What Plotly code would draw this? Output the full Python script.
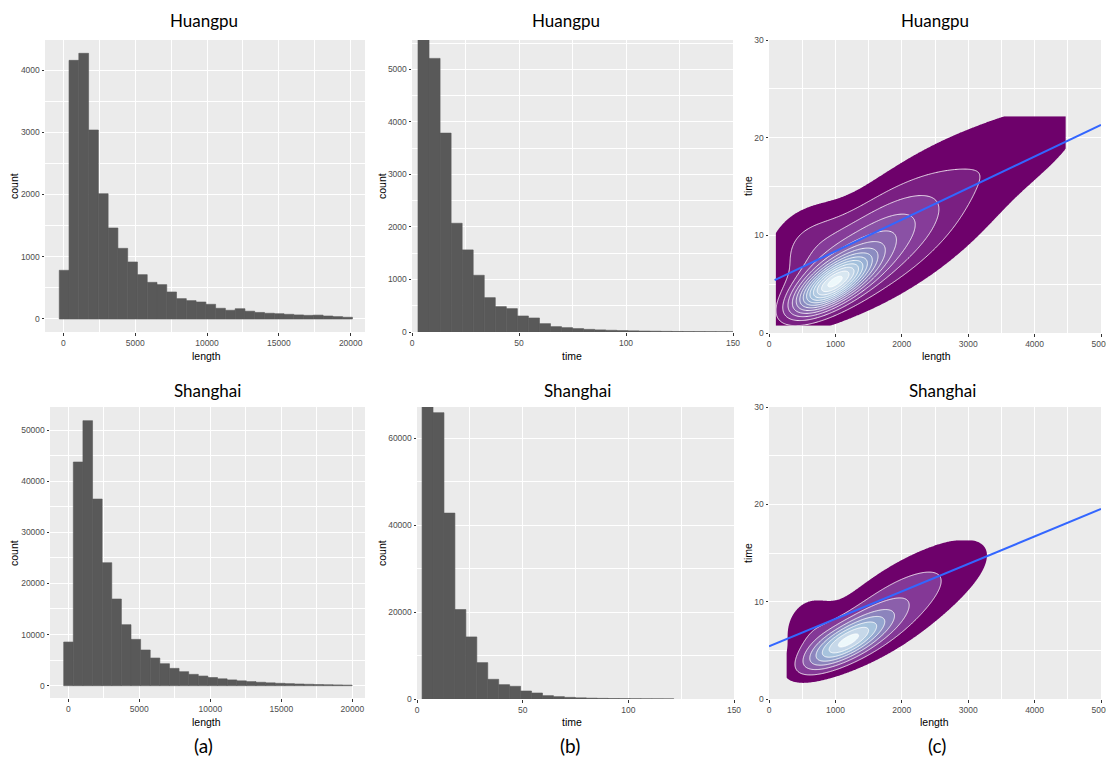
import numpy as np
import plotly.graph_objects as go

W, H = 1106, 765

# ---------------- data ----------------
# (a) trip length histograms (30 bins)
hp_length_counts = [782, 4155, 4268, 3036, 2013, 1462, 1135, 916, 712, 589,
                    552, 434, 327, 295, 273, 236, 172, 140, 165, 125,
                    105, 92, 85, 75, 65, 58, 62, 48, 38, 28]
hp_length_bin_left = -280
hp_length_bin_width = 680

sh_length_counts = [8540, 43740, 51830, 36500, 24050, 16950, 11930, 9060, 6980, 5410,
                    4300, 3390, 2740, 2220, 1890, 1600, 1350, 1130, 950, 800,
                    670, 560, 470, 400, 330, 280, 230, 190, 150, 110]
sh_length_bin_left = -324
sh_length_bin_width = 677

# (b) trip time histograms
hp_time_counts = [6000, 5210, 3787, 2071, 1563, 1080, 654, 483, 445, 305,
                  267, 159, 102, 83, 65, 50, 40, 33, 27, 22,
                  18, 15, 12, 10, 8, 7, 6, 5, 4, 3]
hp_time_bin_left = 2.8
hp_time_bin_width = 5.16

sh_time_counts = [70000, 65850, 42750, 20570, 14270, 8365, 4530, 3300, 2920, 1840,
                  1380, 770, 540, 380, 270, 190, 140, 100, 75, 55, 40, 30, 20]
sh_time_bin_left = 2.4
sh_time_bin_width = 5.18

# (c) 2-D density of (length, time): ridge-shaped kernels
# (mean length, mean time, sd length, slope [min per km], sd across ridge, peak)
hp_density_components = [
    (950, 5.0, 400, 3.5, 1.45, 0.75),
    (1500, 8.5, 750, 3.6, 3.2, 0.28),
    (2700, 14.0, 1100, 3.4, 5.8, 0.10),
    (4100, 20.0, 700, 3.0, 2.8, 0.065),
    (500, 9.5, 450, 2.0, 2.8, 0.10),
]
hp_grid_length = (100, 4470)
hp_grid_time = (0.75, 22.2)
hp_levels = 14

sh_density_components = [
    (1150, 5.8, 420, 3.3, 1.25, 0.75),
    (1650, 8.3, 700, 3.4, 2.9, 0.27),
    (2700, 13.2, 800, 3.0, 3.3, 0.13),
    (550, 7.8, 300, 2.0, 2.5, 0.14),
]
sh_grid_length = (262, 3305)
sh_grid_time = (0.8, 16.3)
sh_levels = 8

# linear fits: intercept [min], slope [min per m], first x
hp_fit = (5.13, 3.235e-3, 85)
sh_fit = (5.42, 2.82e-3, 0)

row_titles = ["Huangpu", "Shanghai"]
panel_labels = ["(a)", "(b)", "(c)"]

# ---------------- styling ----------------
BAR_COLOR = "#595959"
BG = "#EBEBEB"
BUPU = ["#6e016b", "#88419d", "#8c6bb1", "#8c96c6", "#9ebcda", "#bfd3e6", "#edf8fb"]
TICKFONT = dict(family="Liberation Sans, Arial, sans-serif", size=8.5, color="#4D4D4D")
AXFONT = dict(family="Liberation Sans, Arial, sans-serif", size=10.5, color="#000000")
TITLEFONT = dict(family="Lato, Open Sans, sans-serif", size=17, color="#000000")


def hex_rgb(h):
    h = h.lstrip("#")
    return [int(h[i:i + 2], 16) for i in (0, 2, 4)]


def bupu(t):
    t = min(max(t, 0.0), 1.0)
    pos = t * (len(BUPU) - 1)
    i = min(int(pos), len(BUPU) - 2)
    f = pos - i
    a, b = hex_rgb(BUPU[i]), hex_rgb(BUPU[i + 1])
    c = [round(a[k] + (b[k] - a[k]) * f) for k in range(3)]
    return "rgb(%d,%d,%d)" % tuple(c)


def step_scale(n):
    cols = ["rgba(0,0,0,0)"] + [bupu((j - 1) / (n - 1)) for j in range(1, n + 1)]
    scale = []
    for j, c in enumerate(cols):
        lo = max(0.0, (j - 0.5) / n)
        hi = min(1.0, (j + 0.5) / n)
        scale.append([lo, c])
        scale.append([hi, c])
    return scale


def density(comps, xr, yr, nx=260, ny=260):
    gx = np.linspace(xr[0], xr[1], nx)
    gy = np.linspace(yr[0], yr[1], ny)
    X, Y = np.meshgrid(gx, gy)
    Z = np.zeros_like(X)
    for mx, my, sx, slope, sc, h in comps:
        dx = X - mx
        res = Y - my - slope / 1000.0 * dx
        Z += h * np.exp(-0.5 * ((dx / sx) ** 2 + (res / sc) ** 2))
    return gx, gy, Z / Z.max()


fig = go.Figure()


def add_hist(counts, left, width, ax):
    n = len(counts)
    centers = left + width * (np.arange(n) + 0.5)
    fig.add_trace(go.Bar(x=centers, y=counts, width=width,
                         marker=dict(color=BAR_COLOR, line=dict(color=BAR_COLOR, width=0.6)),
                         xaxis="x" + ax, yaxis="y" + ax, showlegend=False,
                         hoverinfo="skip"))


def add_density(comps, xr, yr, nlev, fit, ax):
    gx, gy, Z = density(comps, xr, yr)
    step = 1.0 / (nlev + 0.4)
    fig.add_trace(go.Contour(
        x=gx, y=gy, z=Z, autocontour=False,
        contours=dict(start=step, end=nlev * step, size=step,
                      coloring="fill", showlines=False),
        colorscale=step_scale(nlev), showscale=False, line=dict(width=0),
        xaxis="x" + ax, yaxis="y" + ax, hoverinfo="skip"))
    fig.add_trace(go.Contour(
        x=gx, y=gy, z=Z, autocontour=False,
        contours=dict(start=2 * step, end=nlev * step, size=step,
                      coloring="none", showlines=True),
        line=dict(color="rgba(255,255,255,0.85)", width=1),
        showscale=False, xaxis="x" + ax, yaxis="y" + ax, hoverinfo="skip"))
    b0, b1, x0 = fit
    xs = np.array([x0, 5000.0])
    fig.add_trace(go.Scatter(x=xs, y=b0 + b1 * xs, mode="lines",
                             line=dict(color="#3366FF", width=2),
                             xaxis="x" + ax, yaxis="y" + ax,
                             showlegend=False, hoverinfo="skip"))


add_hist(hp_length_counts, hp_length_bin_left, hp_length_bin_width, "")
add_hist(hp_time_counts, hp_time_bin_left, hp_time_bin_width, "2")
add_density(hp_density_components, hp_grid_length, hp_grid_time, hp_levels, hp_fit, "3")
add_hist(sh_length_counts, sh_length_bin_left, sh_length_bin_width, "4")
add_hist(sh_time_counts, sh_time_bin_left, sh_time_bin_width, "5")
add_density(sh_density_components, sh_grid_length, sh_grid_time, sh_levels, sh_fit, "6")

# panel boxes in pixels: (left, right, top, bottom), ranges, ticks
panels = [
    dict(box=(45, 365, 40, 332), xr=[-1273, 20995], yr=[-209, 4482], xd=5000, yd=1000),
    dict(box=(412, 733, 40, 332), xr=[0, 150], yr=[0, 5560], xd=50, yd=1000),
    dict(box=(769, 1101, 40, 333), xr=[0, 5000], yr=[0, 30], xd=1000, yd=10),
    dict(box=(50, 365, 407, 698), xr=[-1289, 20894], yr=[-2405, 54500], xd=5000, yd=10000),
    dict(box=(417, 734, 407, 699), xr=[0, 150], yr=[0, 67150], xd=50, yd=20000),
    dict(box=(769, 1101, 407, 699), xr=[0, 5000], yr=[0, 30], xd=1000, yd=10),
]

layout = dict(template="none", width=W, height=H, autosize=False,
              margin=dict(l=0, r=0, t=0, b=0, pad=0),
              paper_bgcolor="white", plot_bgcolor=BG, showlegend=False)

for i, p in enumerate(panels):
    l, r, t, b = p["box"]
    sfx = "" if i == 0 else str(i + 1)
    common = dict(showgrid=True, gridcolor="white", gridwidth=1.1, zeroline=False,
                  ticks="outside", ticklen=2.5, tickwidth=1, tickcolor="#333333",
                  tickfont=TICKFONT, showline=False, tickformat="d", tick0=0,
                  fixedrange=True, automargin=False, ticklabeloverflow="allow")
    layout["xaxis" + sfx] = dict(common, domain=[l / W, r / W], range=p["xr"],
                                 dtick=p["xd"], anchor="y" + sfx,
                                 minor=dict(dtick=p["xd"] / 2, tick0=0, showgrid=True,
                                            gridcolor="white", gridwidth=0.5))
    layout["yaxis" + sfx] = dict(common, domain=[1 - b / H, 1 - t / H], range=p["yr"],
                                 dtick=p["yd"], anchor="x" + sfx,
                                 minor=dict(dtick=p["yd"] / 2, tick0=0, showgrid=True,
                                            gridcolor="white", gridwidth=0.5))

annotations = []


def ann(text, x, y, font, angle=0):
    annotations.append(dict(text=text, x=x / W, y=1 - y / H, xref="paper", yref="paper",
                            showarrow=False, font=font, textangle=angle,
                            xanchor="center", yanchor="middle"))


title_x = [[204, 566, 935], [207, 577, 942]]
title_y = [20, 390]
for r_i in range(2):
    for c_i in range(3):
        ann(row_titles[r_i], title_x[r_i][c_i], title_y[r_i], TITLEFONT)

label_x = [203, 570, 937]
for c_i in range(3):
    ann(panel_labels[c_i], label_x[c_i], 745,
        dict(family="Lato, Open Sans, sans-serif", size=19, color="#000000"))

# axis titles
xt_y = [356, 722]
yt_x = [14, 382, 748]
xnames = ["length", "time", "length"]
ynames = ["count", "count", "time"]
xt_x = [[206, 572, 937], [206, 572, 934]]
yt_y = [186, 553]
for r_i in range(2):
    for c_i in range(3):
        ann(xnames[c_i], xt_x[r_i][c_i], xt_y[r_i], AXFONT)
        ann(ynames[c_i], yt_x[c_i], yt_y[r_i], AXFONT, angle=-90)

layout["annotations"] = annotations
fig.update_layout(**layout)
fig.write_html("out.html", config={"displayModeBar": False},
               post_script="document.body.style.margin='0px';")
